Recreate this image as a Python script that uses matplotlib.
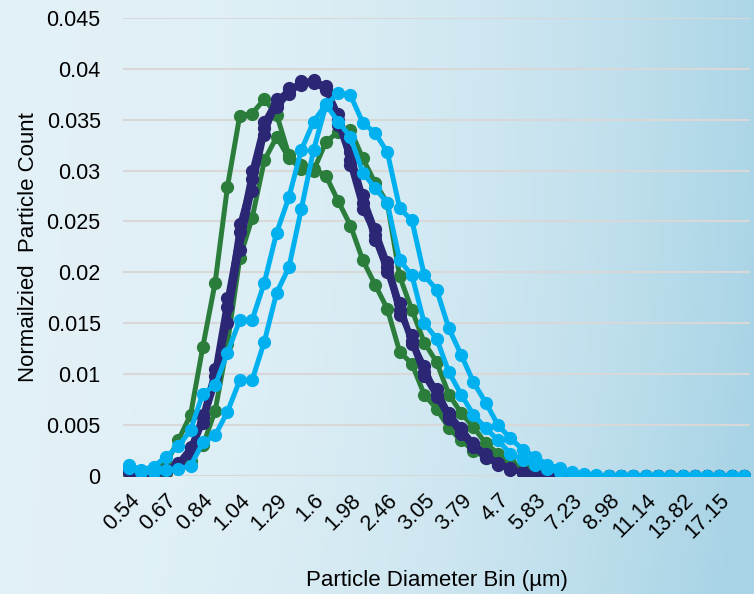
import numpy as np
import matplotlib.pyplot as plt

# Bin labels (µm) - 51 bins, Excel shows every 3rd one
bins = ['0.54', '0.58', '0.62', '0.67', '0.72', '0.78', '0.84', '0.9', '0.97',
        '1.04', '1.12', '1.2', '1.29', '1.39', '1.49', '1.6', '1.72', '1.85',
        '1.98', '2.13', '2.29', '2.46', '2.64', '2.84', '3.05', '3.28', '3.53',
        '3.79', '4.07', '4.38', '4.7', '5.05', '5.43', '5.83', '6.27', '6.73',
        '7.23', '7.77', '8.36', '8.98', '9.65', '10.37', '11.14', '11.97', '12.86',
        '13.82', '14.85', '15.96', '17.15', '18.43', '19.8']

zeros15 = [0.0] * 15

green_a = [0.0003, 0.0001, 0.0002, 0.0012, 0.0035, 0.006, 0.0127, 0.019, 0.0284,
           0.0354, 0.0356, 0.0370, 0.0355, 0.0315, 0.0305, 0.0302, 0.0295, 0.0270,
           0.0246, 0.0212, 0.0188, 0.0164, 0.0122, 0.0110, 0.0080, 0.0066, 0.0047,
           0.0035, 0.0025, 0.0018, 0.0012, 0.0007, 0.0004, 0.0002, 0.0001, 0.0001] + zeros15
green_b = [0.0002, 0.0000, 0.0001, 0.0003, 0.0008, 0.0015, 0.0030, 0.0064, 0.0130,
           0.0214, 0.0253, 0.0310, 0.0333, 0.0312, 0.0302, 0.0300, 0.0328, 0.0338,
           0.0340, 0.0312, 0.0288, 0.0268, 0.0196, 0.0163, 0.0131, 0.0112, 0.0080,
           0.0062, 0.0048, 0.0032, 0.0022, 0.0013, 0.0008, 0.0005, 0.0003, 0.0001] + zeros15

navy_1 = [0.0005, 0.0002, 0.0003, 0.0006, 0.0012, 0.0025, 0.0058, 0.0098, 0.0166,
          0.0247, 0.0292, 0.0342, 0.0362, 0.0375, 0.0386, 0.0389, 0.0383, 0.0356,
          0.0305, 0.0262, 0.0237, 0.0205, 0.0158, 0.0138, 0.0102, 0.0085, 0.0062,
          0.0047, 0.0032, 0.0022, 0.0013, 0.0008, 0.0004, 0.0002, 0.0001, 0.0000] + zeros15
navy_2 = [0.0004, 0.0002, 0.0002, 0.0005, 0.0010, 0.0022, 0.0052, 0.0090, 0.0150,
          0.0222, 0.0280, 0.0335, 0.0366, 0.0381, 0.0384, 0.0386, 0.0379, 0.0350,
          0.0318, 0.0276, 0.0243, 0.0210, 0.0170, 0.0133, 0.0108, 0.0080, 0.0058,
          0.0043, 0.0029, 0.0019, 0.0012, 0.0007, 0.0004, 0.0002, 0.0001, 0.0000] + zeros15
navy_3 = [0.0005, 0.0003, 0.0003, 0.0006, 0.0013, 0.0028, 0.0060, 0.0105, 0.0175,
          0.0240, 0.0300, 0.0348, 0.0370, 0.0378, 0.0388, 0.0388, 0.0381, 0.0345,
          0.0310, 0.0268, 0.0232, 0.0200, 0.0163, 0.0130, 0.0098, 0.0078, 0.0056,
          0.0041, 0.0028, 0.0018, 0.0011, 0.0006, 0.0003, 0.0002, 0.0001, 0.0000] + zeros15

blue_1 = [0.0011, 0.0006, 0.0009, 0.0019, 0.0029, 0.0045, 0.0081, 0.0089, 0.0121,
          0.0153, 0.0153, 0.0190, 0.0239, 0.0274, 0.0320, 0.0348, 0.0365, 0.0348,
          0.0333, 0.0298, 0.0283, 0.0268, 0.0212, 0.0197, 0.0150, 0.0135, 0.0102,
          0.0080, 0.0060, 0.0047, 0.0035, 0.0022, 0.0016, 0.0011, 0.0007, 0.0004,
          0.0002, 0.0001] + [0.0] * 13
blue_2 = [0.0008, 0.0004, 0.0004, 0.0006, 0.0007, 0.0010, 0.0033, 0.0040, 0.0063,
          0.0094, 0.0094, 0.0132, 0.0180, 0.0205, 0.0262, 0.0320, 0.0364, 0.0376,
          0.0374, 0.0347, 0.0337, 0.0318, 0.0263, 0.0251, 0.0197, 0.0183, 0.0145,
          0.0119, 0.0092, 0.0072, 0.0050, 0.0037, 0.0026, 0.0019, 0.0011, 0.0008,
          0.0004, 0.0002, 0.0001] + [0.0] * 12

series = [(green_a, '#2b7d3c'), (green_b, '#2b7d3c'),
          (navy_1, '#2b2775'), (navy_2, '#2b2775'), (navy_3, '#2b2775'),
          (blue_1, '#00b0ef'), (blue_2, '#00b0ef')]

plt.rcParams['font.family'] = ['Liberation Sans', 'DejaVu Sans']

fig = plt.figure(figsize=(7.54, 5.94), dpi=100)

# background gradient (pale on the left -> bluer towards the right edge)
bg = fig.add_axes([0, 0, 1, 1], zorder=-10)
gx, gy = np.meshgrid(np.linspace(0, 1, 200), np.linspace(0, 1, 160))
t = np.clip(0.08 + 0.85 * gx ** 2.2 + 0.15 * gy ** 2 * gx, 0, 1)
c0 = np.array([0.91, 0.955, 0.975])
c1 = np.array([0.66, 0.83, 0.90])
img = c0 + (c1 - c0) * t[..., None]
bg.imshow(img, aspect='auto', extent=[0, 1, 0, 1])
bg.axis('off')

ax = fig.add_axes([0.163, 0.1987, 0.832, 0.7713])
ax.set_facecolor('none')

x = np.arange(len(bins))
for vals, col in series:
    ax.plot(x, vals, '-o', color=col, lw=3.6, ms=8.5, zorder=3)

ax.set_xlim(-0.5, len(bins) - 0.5)
ax.set_ylim(0, 0.045)
ax.set_yticks(np.arange(0, 0.0451, 0.005))
ax.set_yticklabels(['0', '0.005', '0.01', '0.015', '0.02', '0.025', '0.03',
                    '0.035', '0.04', '0.045'], fontsize=15.5)
ax.yaxis.grid(True, color='#d8d8d8', lw=1.5)
ax.set_axisbelow(True)

ax.set_xticks(x[::3])
ax.set_xticklabels(bins[::3], rotation=45, ha='right', rotation_mode='anchor',
                   fontsize=15.5)
ax.tick_params(axis='y', length=0, pad=16)
ax.tick_params(axis='x', length=0, pad=10)
for s in ax.spines.values():
    s.set_visible(False)

ax.set_xlabel('Particle Diameter Bin (µm)', fontsize=16, labelpad=20)
ax.set_ylabel('Normailzied  Particle Count', fontsize=16)
ax.yaxis.set_label_coords(-0.134, 0.5)

fig.savefig('out.png', dpi=100)
